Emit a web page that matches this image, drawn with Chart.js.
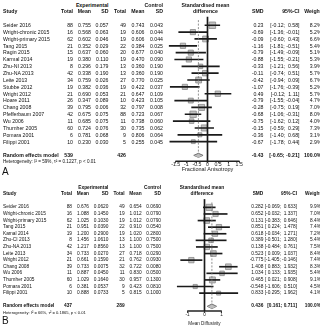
<!DOCTYPE html>
<html lang="en"><head><meta charset="utf-8"><title>Forest plots</title>
<script src="https://cdn.jsdelivr.net/npm/chart.js@4.4.1/dist/chart.umd.min.js"></script>
<style>
html,body{margin:0;padding:0;background:#fff;overflow:hidden;width:320px;height:326px}
body{font-family:"Liberation Sans",Arimo,Arial,sans-serif;color:#111}
.t{position:absolute;white-space:pre;line-height:10px;height:10px}
canvas{position:absolute}
</style></head><body>
<canvas id="chartA" width="115" height="180" style="left:150px;top:0px"></canvas>
<canvas id="chartB" width="109" height="146" style="left:150px;top:180px"></canvas>
<script>
// ===== Panel A : Fractional Anisotropy =====
const studiesA = ["Seider 2016","Wright-chronic 2015","Wright-primary 2015","Tang 2015","Ragin 2015","Karmal 2014","Zhu-NI 2013","Zhu-NA 2013","Leite 2013","Stubbe 2012","Wright 2012","Hoare 2011","Chang 2008","Pfefferbaum 2007","Wu 2006","Thurnher 2005","Pomara 2001","Filippi 2001"];
const expTotalA = [88,16,62,21,15,19,8,42,34,19,21,26,39,42,11,60,6,10];
const expMeanA  = [0.755,0.568,0.602,0.352,0.637,0.380,0.296,0.338,0.759,0.382,0.690,0.347,0.795,0.675,0.685,0.724,0.781,0.230];
const expSdA    = [0.057,0.063,0.046,0.029,0.060,0.110,0.179,0.190,0.026,0.036,0.053,0.089,0.006,0.075,0.075,0.076,0.068,0.030];
const ctrlTotalA = [49,19,19,22,20,19,13,13,27,19,21,10,32,88,11,30,9,5];
const ctrlMeanA  = [0.743,0.606,0.606,0.384,0.677,0.470,0.360,0.360,0.770,0.422,0.647,0.423,0.797,0.723,0.738,0.735,0.806,0.255];
const ctrlSdA    = [0.043,0.044,0.044,0.025,0.040,0.090,0.190,0.190,0.025,0.037,0.109,0.105,0.008,0.067,0.060,0.062,0.064,0.045];
const smdA  = [0.23,-0.69,-0.09,-1.16,-0.79,-0.88,-0.33,-0.11,-0.42,-1.07,0.49,-0.79,-0.28,-0.68,-0.75,-0.15,-0.36,-0.67];
const loA   = [-0.12,-1.36,-0.60,-1.81,-1.49,-1.55,-1.21,-0.74,-0.94,-1.76,-0.12,-1.55,-0.75,-1.06,-1.62,-0.59,-1.40,-1.78];
const hiA   = [0.58,-0.01,0.43,-0.51,-0.09,-0.21,0.56,0.51,0.09,-0.39,1.11,-0.04,0.19,-0.31,0.12,0.29,0.68,0.44];
const weightA = [8.2,5.2,6.6,5.4,5.1,5.3,3.9,5.7,6.7,5.2,5.7,4.7,7.0,8.0,4.0,7.3,3.1,2.9];
const pooledA = [-0.43,-0.65,-0.21];       // estimate, lower, upper
const pooledTotalsA = [539,426];
const hetA = "Heterogeneity: I\u00B2 = 59%, \u03C4\u00B2 = 0.1227, p < 0.01";
const ticksA = [-1.5,-1,-0.5,0,0.5,1,1.5];
const tickLabelsA = ["-1.5","-1","-0.5","0","0.5","1","1.5"];
const axisTitleA = "Fractional Anisotropy";

// ===== Panel B : Mean Diffusivity =====
const studiesB = ["Seider 2016","Wright-chronic 2015","Wright-primary 2015","Tang 2015","Kamal 2014","Zhu-CI 2013","Zhu-NA 2013","Leite 2013","Wright 2012","Chang 2008","Wu 2006","Thurnher 2005","Pomara 2001","Filippi 2001"];
const expTotalB = [88,16,62,21,19,8,42,34,21,39,11,60,6,10];
const expMeanB  = [0.676,1.088,1.025,0.951,1.200,1.456,1.217,0.733,0.661,0.733,0.887,1.029,0.381,0.888];
const expSdB    = [0.0620,0.1450,0.1030,0.0390,0.2900,1.0610,0.8560,0.0270,0.1590,0.0075,0.0450,0.1640,0.0537,0.0733];
const ctrlTotalB = [49,19,19,22,19,13,13,27,21,32,11,30,9,5];
const ctrlMeanB  = [0.654,1.012,1.012,0.910,1.020,1.100,1.100,0.718,0.762,0.722,0.830,0.957,0.423,0.815];
const ctrlSdB    = [0.0690,0.0790,0.0790,0.0540,0.2800,0.7500,0.7500,0.0290,0.0930,0.0080,0.0500,0.1300,0.0810,0.1000];
const smdB  = [0.282,0.652,0.131,0.851,0.618,0.389,0.138,0.523,-0.775,1.408,1.034,0.465,-0.548,0.833];
const loB   = [-0.069,-0.032,-0.383,0.224,-0.034,-0.501,-0.484,0.009,-1.405,0.883,0.133,0.021,-1.606,-0.295];
const hiB   = [0.633,1.337,0.646,1.478,1.271,1.280,0.761,1.037,-0.146,1.932,1.935,0.908,0.510,1.962];
const weightB = [9.9,7.0,8.4,7.4,7.2,5.4,7.5,8.4,7.4,8.3,5.4,9.1,4.5,4.1];
const pooledB = [0.436,0.161,0.711];
const pooledTotalsB = [437,289];
const hetB = "Heterogeneity: I\u00B2 = 66%, \u03C4\u00B2 = 0.1865, p < 0.01";
const ticksB = [-1,0,1];
const tickLabelsB = ["-1","0","1"];
const axisTitleB = "Mean Diffusivity";

// ===== rendering =====
const PAGE_W = 320;

function panelChart(id, P, C) {
  const n = P.smd.length;
  const dRow = n + 1;
  const ciBars = P.lo.map((l, i) => ({x: [l, P.hi[i]], y: i}));
  const zeroBar = [{x: 0, y: [C.zeroTop, C.yMax]}];
  const axisBar = [{x: [P.ticks[0], P.ticks[P.ticks.length - 1]], y: C.yMax}];
  const sq = P.smd.map((v, i) => ({x: v, y: i}));
  const diaTop = [{x: P.pooled[1], y: dRow}, {x: P.pooled[0], y: dRow - C.dh}, {x: P.pooled[2], y: dRow}];
  const diaBot = [{x: P.pooled[1], y: dRow}, {x: P.pooled[0], y: dRow + C.dh}, {x: P.pooled[2], y: dRow}];
  const dash = [{x: P.pooled[0], y: C.dashTop}, {x: P.pooled[0], y: dRow - C.dh}];
  const lineStyle = {type: 'line', showLine: true, pointRadius: 0, fill: false, tension: 0, segment: {}};
  const barStyle = {type: 'bar', grouped: false, borderWidth: 0, borderSkipped: false};
  return new Chart(document.getElementById(id), {
    type: 'line',
    data: { datasets: [
      Object.assign({}, lineStyle, {data: dash, borderColor: '#777', borderWidth: 0.8, borderDash: [2, 1.5]}),
      Object.assign({}, lineStyle, {data: diaTop, borderColor: '#555', borderWidth: 0.8, backgroundColor: '#bdbdbd', fill: '+1'}),
      Object.assign({}, lineStyle, {data: diaBot, borderColor: '#555', borderWidth: 0.8}),
      Object.assign({}, barStyle, {data: ciBars, indexAxis: 'y', backgroundColor: '#1a1a1a', barThickness: 1, maxBarThickness: 1}),
      Object.assign({}, barStyle, {data: zeroBar, indexAxis: 'x', backgroundColor: '#1a1a1a', barThickness: 1, maxBarThickness: 1}),
      Object.assign({}, barStyle, {data: axisBar, indexAxis: 'y', backgroundColor: '#222', barThickness: 0.9, maxBarThickness: 0.9, clip: false}),
      {type: 'scatter', showLine: false, data: sq, pointStyle: 'rect', backgroundColor: '#c2c2c2', borderColor: '#808080', borderWidth: 0.7,
       pointRadius: c => C.k * Math.sqrt(P.w[c.dataIndex]) / Math.SQRT2}
    ]},
    options: {
      responsive: false, animation: false, events: [],
      layout: {padding: {top: 5, left: 0, right: 0, bottom: 0}},
      plugins: {legend: {display: false}, tooltip: {enabled: false}},
      scales: {
        x: {type: 'linear', position: 'bottom', min: C.xMin, max: C.xMax, offset: false,
          afterBuildTicks: s => { s.ticks = P.ticks.map(v => ({value: v})); },
          afterFit: s => { s.height = C.axisH; },
          grid: {display: true, drawOnChartArea: false, drawTicks: true, tickLength: 2, color: '#222', lineWidth: 0.8, offset: false},
          border: {display: false},
          ticks: {autoSkip: false, maxRotation: 0, padding: C.tickPad, color: '#222', font: {size: C.tickFs, lineHeight: 1}, callback: (v, i) => P.tickLabels[i]},
          title: {display: true, text: P.axisTitle, color: '#222', font: {size: C.titleFs, lineHeight: 1.2}, padding: {top: 0, bottom: C.titlePb}}},
        y: {type: 'linear', reverse: true, display: false, min: C.yMin, max: C.yMax, offset: false}
      }
    }
  });
}

function put(text, x, y, align, size, bold) {
  const d = document.createElement('div');
  d.className = 't';
  d.textContent = text;
  d.style.fontSize = size + 'px';
  d.style.top = (y - 5) + 'px';
  if (bold) d.style.fontWeight = 'bold';
  if (align === 'left') d.style.left = x + 'px';
  else if (align === 'right') d.style.right = (PAGE_W - x) + 'px';
  else { d.style.left = (x - 60) + 'px'; d.style.width = '120px'; d.style.textAlign = 'center'; }
  document.body.appendChild(d);
}
function padAll(arr, dec) {
  const s = arr.map(v => v.toFixed(dec));
  const w = Math.max(...s.map(t => t.length));
  return s.map(t => t.padStart(w, ' '));
}

function panelText(P, L) {
  const fs = L.fs;
  put('Experimental', L.eSD, L.h1, 'right', fs, true);
  put('Control', L.cSD, L.h1, 'right', fs, true);
  put('Standardised mean', L.mid, L.h1, 'center', fs, true);
  put('Study', 3, L.h2, 'left', fs, true);
  put('Total', L.eN, L.h2, 'right', fs, true);
  put('Mean', L.eM, L.h2, 'right', fs, true);
  put('SD', L.eSD, L.h2, 'right', fs, true);
  put('Total', L.cN, L.h2, 'right', fs, true);
  put('Mean', L.cM, L.h2, 'right', fs, true);
  put('SD', L.cSD, L.h2, 'right', fs, true);
  put('difference', L.mid, L.h2, 'center', fs, true);
  put('SMD', L.smd, L.h2, 'right', fs, true);
  put('95%-CI', L.ci, L.h2, 'right', fs, true);
  put('Weight', L.w, L.h2, 'right', fs, true);
  const lo = padAll(P.lo, P.dec), hi = padAll(P.hi, P.dec);
  P.studies.forEach((s, i) => {
    const y = L.row0 + i * L.dy;
    put(s, 3, y, 'left', fs, false);
    put(String(P.eN[i]), L.eN, y, 'right', fs, false);
    put(P.eM[i].toFixed(3), L.eM, y, 'right', fs, false);
    put(P.eSD[i].toFixed(P.sdDec), L.eSD, y, 'right', fs, false);
    put(String(P.cN[i]), L.cN, y, 'right', fs, false);
    put(P.cM[i].toFixed(3), L.cM, y, 'right', fs, false);
    put(P.cSD[i].toFixed(P.sdDec), L.cSD, y, 'right', fs, false);
    put(P.smd[i].toFixed(P.dec), L.smd, y, 'right', fs, false);
    put('[' + lo[i] + '; ' + hi[i] + ']', L.ci, y, 'right', fs, false);
    put(P.w[i].toFixed(1) + '%', L.w, y, 'right', fs, false);
  });
  const yr = L.row0 + (P.studies.length + 1) * L.dy;
  put('Random effects model', 3, yr, 'left', fs, true);
  put(String(P.totals[0]), L.eN, yr, 'right', fs, true);
  put(String(P.totals[1]), L.cN, yr, 'right', fs, true);
  put(P.pooled[0].toFixed(P.dec), L.smd, yr, 'right', fs, true);
  put('[' + P.pooled[1].toFixed(P.dec) + '; ' + P.pooled[2].toFixed(P.dec) + ']', L.ci, yr, 'right', fs, true);
  put('100.0%', L.w, yr, 'right', fs, true);
  put(P.het, 3, L.hetY, 'left', L.hetFs, false);
  put(P.letter, 2, L.letterY, 'left', L.letterFs, false);
}

const PA = {studies: studiesA, eN: expTotalA, eM: expMeanA, eSD: expSdA, cN: ctrlTotalA, cM: ctrlMeanA, cSD: ctrlSdA,
  smd: smdA, lo: loA, hi: hiA, w: weightA, pooled: pooledA, totals: pooledTotalsA, het: hetA,
  ticks: ticksA, tickLabels: tickLabelsA, axisTitle: axisTitleA, dec: 2, sdDec: 3, letter: 'A'};
const PB = {studies: studiesB, eN: expTotalB, eM: expMeanB, eSD: expSdB, cN: ctrlTotalB, cM: ctrlMeanB, cSD: ctrlSdB,
  smd: smdB, lo: loB, hi: hiB, w: weightB, pooled: pooledB, totals: pooledTotalsB, het: hetB,
  ticks: ticksB, tickLabels: tickLabelsB, axisTitle: axisTitleB, dec: 3, sdDec: 4, letter: 'B'};

Chart.defaults.font.family = '"Liberation Sans", Arimo, Arial, sans-serif';
panelChart('chartA', PA, {xMin: -2.468, xMax: 2.468, yMin: -2.915, yMax: 19.869, axisH: 18.7, k: 2.27, dh: 0.3,
  zeroTop: -1.2, dashTop: -0.75, tickPad: -0.9, tickFs: 5.2, titleFs: 5.5, titlePb: 7.2});
panelChart('chartB', PB, {xMin: -2.914, xMax: 2.914, yMin: -3.379, yMax: 15.712, axisH: 15, k: 1.97, dh: 0.35,
  zeroTop: -1.2, dashTop: -0.75, tickPad: -0.3, tickFs: 4.6, titleFs: 4.6, titlePb: -0.8});

panelText(PA, {fs: 5.2, h1: 4.5, h2: 11.3, row0: 25, dy: 6.86, eN: 73, eM: 91, eSD: 108.5, cN: 126, cM: 144.5, cSD: 163,
  mid: 205.5, smd: 263.5, ci: 299.5, w: 321.5, hetY: 162, hetFs: 4.6, letterY: 172, letterFs: 10});
panelText(PB, {fs: 4.8, h1: 187.8, h2: 194.3, row0: 207.3, dy: 6.6, eN: 72, eM: 89, eSD: 108.4, cN: 124.6, cM: 141.6, cSD: 161,
  mid: 202, smd: 263.3, ci: 297, w: 321, hetY: 312.5, hetFs: 4.1, letterY: 321, letterFs: 10});
</script>
</body></html>
